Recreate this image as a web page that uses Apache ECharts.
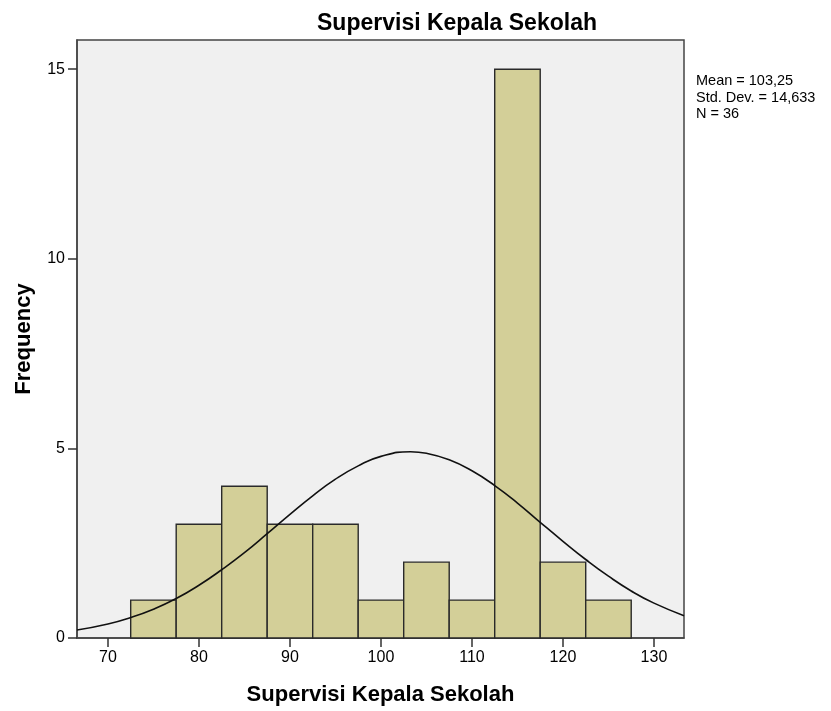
<!DOCTYPE html>
<html><head><meta charset="utf-8">
<script src="https://cdn.jsdelivr.net/npm/echarts@6/dist/echarts.min.js"></script>
<style>html,body{margin:0;padding:0;background:#fff}#c{width:831px;height:711px}</style>
</head><body><div id="c"></div>
<script>
// Histogram bins (lower, upper) and frequencies
var binLower = [72.5, 77.5, 82.5, 87.5, 92.5, 97.5, 102.5, 107.5, 112.5, 117.5, 122.5];
var binUpper = [77.5, 82.5, 87.5, 92.5, 97.5, 102.5, 107.5, 112.5, 117.5, 122.5, 127.5];
var counts   = [1, 3, 4, 3, 3, 1, 2, 1, 15, 2, 1];
// Normal curve points
var curveX = [66.6, 70, 72.5, 75, 77.5, 80, 82.5, 85, 87.5, 90, 92.5, 95, 97.5, 100, 103.25, 105, 107.5, 110, 112.5, 115, 117.5, 120, 122.5, 125, 127.5, 130, 133.3];
var curveY = [0.21, 0.37, 0.54, 0.76, 1.04, 1.39, 1.80, 2.25, 2.75, 3.26, 3.75, 4.19, 4.54, 4.79, 4.91, 4.87, 4.70, 4.41, 4.02, 3.56, 3.05, 2.55, 2.07, 1.63, 1.24, 0.92, 0.59];
var xTicks = [70, 80, 90, 100, 110, 120, 130];
var yTicks = [0, 5, 10, 15];
var statsLines = ['Mean = 103,25', 'Std. Dev. = 14,633', 'N = 36'];

var chart = echarts.init(document.getElementById('c'), null, {renderer: 'canvas'});
var font = 'Arial, "Liberation Sans", sans-serif';
var barData = binLower.map(function (l, i) { return [l, binUpper[i], counts[i]]; });
var lineData = curveX.map(function (x, i) { return [x, curveY[i]]; });

chart.setOption({
  animation: false,
  title: {
    text: 'Supervisi Kepala Sekolah',
    left: 452, top: 7, textAlign: 'center',
    textStyle: {fontFamily: font, fontSize: 23, fontWeight: 'bold', color: '#000'}
  },
  graphic: [{
    type: 'text', left: 696, top: 73,
    style: {text: statsLines.join('\n'), fontFamily: font, fontSize: 14.5, lineHeight: 16.5, fill: '#000'}
  }],
  grid: {left: 77, right: 147, top: 40, bottom: 71, show: true, backgroundColor: '#f0f0f0', borderColor: '#444', borderWidth: 1.5},
  xAxis: {
    type: 'value', min: 66.6, max: 133.3,
    name: 'Supervisi Kepala Sekolah', nameLocation: 'middle', nameGap: 46,
    nameTextStyle: {fontFamily: font, fontSize: 22, fontWeight: 'bold', color: '#000'},
    axisLine: {show: true, onZero: false, lineStyle: {color: '#444', width: 1.5}},
    axisTick: {show: true, length: 9, lineStyle: {color: '#333', width: 1.5}, customValues: xTicks},
    axisLabel: {fontFamily: font, fontSize: 16, color: '#000', margin: 12, customValues: xTicks},
    splitLine: {show: false}
  },
  yAxis: {
    type: 'value', min: 0, max: 15.77,
    name: 'Frequency', nameLocation: 'middle', nameGap: 42,
    nameTextStyle: {fontFamily: font, fontSize: 22, fontWeight: 'bold', color: '#000'},
    axisLine: {show: true, lineStyle: {color: '#444', width: 1.5}},
    axisTick: {show: true, length: 9, lineStyle: {color: '#333', width: 1.5}, customValues: yTicks},
    axisLabel: {fontFamily: font, fontSize: 16, color: '#000', margin: 12, customValues: yTicks},
    splitLine: {show: false}
  },
  series: [{
    type: 'custom',
    data: barData,
    renderItem: function (params, api) {
      var p0 = api.coord([api.value(0), 0]);
      var p1 = api.coord([api.value(1), api.value(2)]);
      return {
        type: 'rect',
        shape: {x: p0[0], y: p1[1], width: p1[0] - p0[0], height: p0[1] - p1[1]},
        style: {fill: '#d3cf98', stroke: '#2a2a2a', lineWidth: 1.4}
      };
    },
    encode: {x: [0, 1], y: 2},
    z: 2
  }, {
    type: 'line',
    data: lineData,
    smooth: true,
    showSymbol: false,
    lineStyle: {color: '#111', width: 1.6},
    z: 3
  }]
});
</script></body></html>
